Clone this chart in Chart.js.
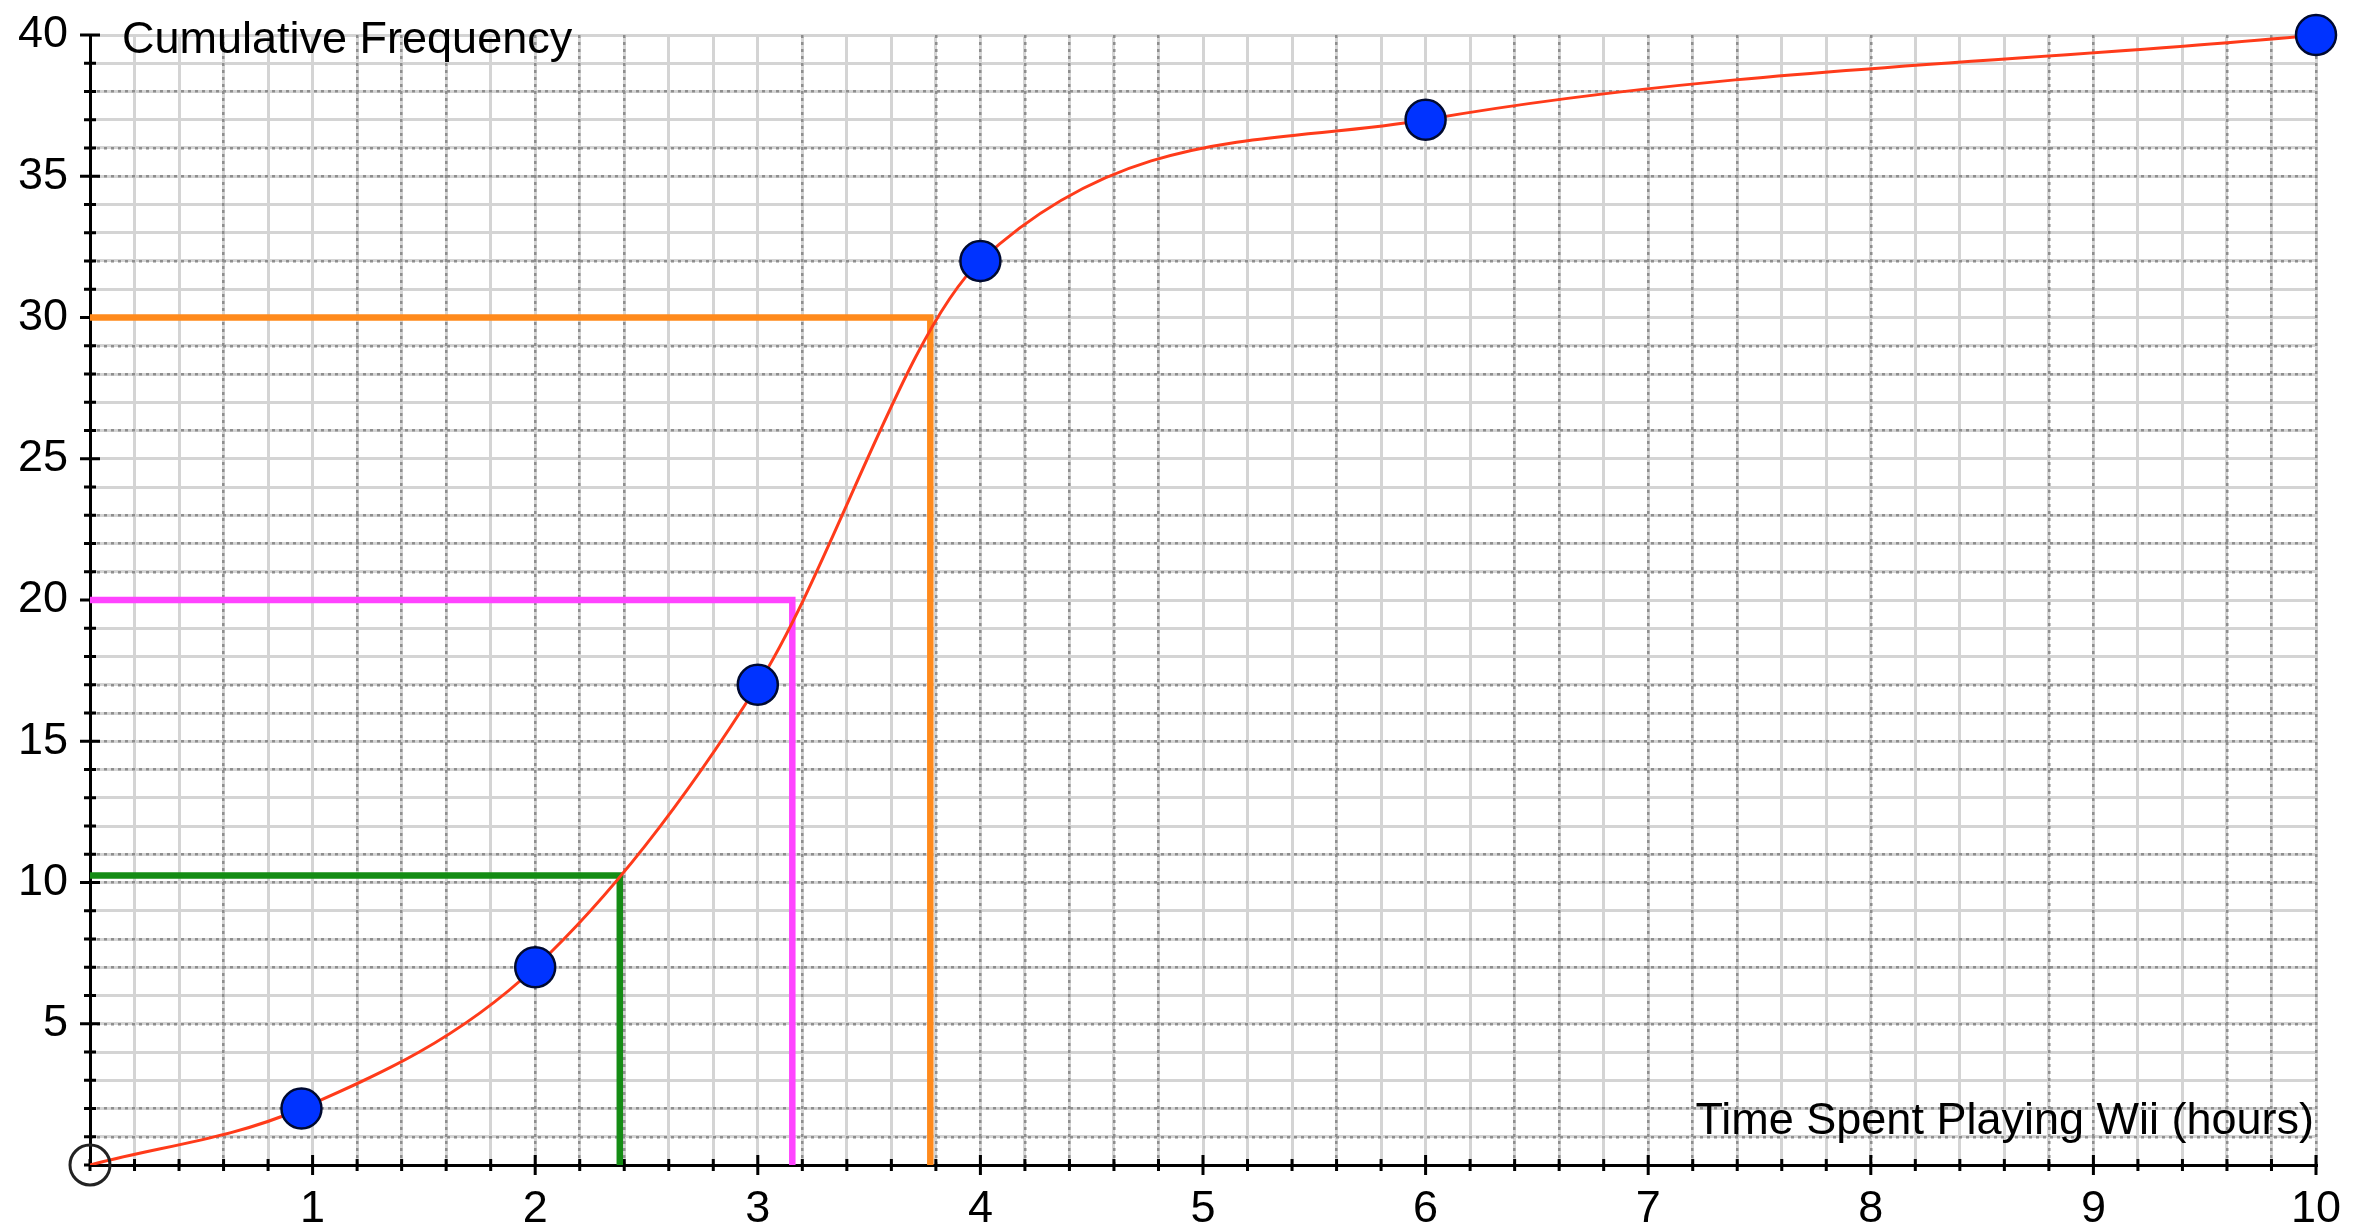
<!DOCTYPE html>
<html>
<head>
<meta charset="utf-8">
<title>Cumulative Frequency</title>
<script src="https://cdn.jsdelivr.net/npm/chart.js@4.4.1/dist/chart.umd.min.js"></script>
<style>
    html, body { margin: 0; padding: 0; background: #fff; }
    #grafico { display: block; }
</style>
</head>
<body>
<canvas id="grafico" width="2356" height="1231"></canvas>
<script>
// Dados (horas x frequência acumulada)
const horas = [0, 0.95, 2, 3, 4, 6, 10];
const freqAcumulada = [0, 2, 7, 17, 32, 37, 40];

// Linhas dos quartis: altura (freq.) e onde cortam a curva (horas)
const quartilFreq = [10.25, 20, 30];
const quartilHoras = [2.38, 3.155, 3.775];
const quartilCores = ['#148c14', '#ff44ff', '#ff8a1c'];

// Rótulos dos eixos
const rotulosX = ['1', '2', '3', '4', '5', '6', '7', '8', '9', '10'];
const rotulosY = ['5', '10', '15', '20', '25', '30', '35', '40'];

// Padrão das linhas da grade (S = contínua clara, D = pontilhada escura)
const gradeX = 'SSSDSSDDDSDDDSSSDSSDDDDDDSSSDSSSDDSDDDSSDSSSDDSSDDD';
const gradeY = 'SDDSSDSDDSDDSSDDDDSSSDDDSSDSDDSSDSSDDSDSS';

const FONTE = "'Liberation Sans', Arial, sans-serif";
Chart.defaults.font.family = FONTE;
Chart.defaults.font.size = 45;
Chart.defaults.color = '#000';

function pontosDe(xs, ys) {
    return xs.map((x, i) => ({ x: x, y: ys[i] }));
}

function rotuloPara(lista, valor) {
    const r = lista.find(l => Math.abs(Number(l) - valor) < 1e-6);
    return r || '';
}

// Marcas dos eixos (cruzam a linha do eixo) e textos dentro da área
const extrasGrafico = {
    id: 'extrasGrafico',
    beforeDatasetsDraw(chart) {
        const ctx = chart.ctx;
        const sx = chart.scales.x, sy = chart.scales.y;
        const x0 = sx.getPixelForValue(0), y0 = sy.getPixelForValue(0);
        const area = chart.chartArea;

        ctx.save();
        ctx.strokeStyle = '#000';
        ctx.lineWidth = 3;
        ctx.beginPath();
        sx.ticks.forEach(t => {
            const px = sx.getPixelForValue(t.value);
            const len = rotuloPara(rotulosX, t.value) ? 10 : 6;
            ctx.moveTo(px, y0 - len);
            ctx.lineTo(px, y0 + len);
        });
        sy.ticks.forEach(t => {
            const py = sy.getPixelForValue(t.value);
            const len = rotuloPara(rotulosY, t.value) ? 10 : 6;
            ctx.moveTo(x0 - len, py);
            ctx.lineTo(x0 + len, py);
        });
        ctx.stroke();

        ctx.fillStyle = '#000';
        ctx.font = '45px ' + FONTE;
        ctx.textBaseline = 'alphabetic';
        ctx.textAlign = 'left';
        ctx.fillText('Cumulative Frequency', area.left + 32, area.top + 18);
        ctx.textAlign = 'right';
        ctx.fillText('Time Spent Playing Wii (hours)', area.right - 2, area.bottom - 31);
        ctx.restore();
    }
};

const dadosCurva = pontosDe(horas, freqAcumulada);

const conjuntosQuartis = quartilFreq.map((f, i) => ({
    label: 'quartil ' + (i + 1),
    data: [{ x: 0, y: f }, { x: quartilHoras[i], y: f }, { x: quartilHoras[i], y: 0 }],
    borderColor: quartilCores[i],
    borderWidth: 6.5,
    borderJoinStyle: 'miter',
    pointRadius: 0,
    tension: 0,
    order: 3
}));

new Chart(document.getElementById('grafico'), {
    type: 'line',
    data: {
        datasets: [
            {
                label: 'pontos',
                data: dadosCurva.slice(1),
                showLine: false,
                pointRadius: 20,
                pointBackgroundColor: '#0033ff',
                pointBorderColor: '#000a30',
                pointBorderWidth: 2.5,
                clip: false,
                order: 0
            },
            {
                label: 'origem',
                data: dadosCurva.slice(0, 1),
                showLine: false,
                pointRadius: 20,
                pointBackgroundColor: 'rgba(0,0,0,0)',
                pointBorderColor: '#222',
                pointBorderWidth: 3,
                clip: false,
                order: 0
            },
            {
                label: 'curva',
                data: dadosCurva,
                borderColor: '#ff3b1a',
                borderWidth: 3,
                pointRadius: 0,
                cubicInterpolationMode: 'monotone',
                order: 1
            },
            ...conjuntosQuartis
        ]
    },
    options: {
        responsive: false,
        animation: false,
        events: [],
        layout: { padding: { top: 35, right: 40, left: 0, bottom: 0 } },
        plugins: { legend: { display: false }, tooltip: { enabled: false } },
        scales: {
            x: {
                type: 'linear', position: 'bottom', min: 0, max: 10,
                ticks: {
                    stepSize: 0.2, autoSkip: false, maxRotation: 0, padding: 18,
                    callback: v => rotuloPara(rotulosX, v)
                },
                grid: { color: '#d4d4d4', lineWidth: 3, drawTicks: false },
                border: { color: '#000', width: 3 },
                afterFit: s => { s.height = 66; s.paddingLeft = 0; s.paddingRight = 0; }
            },
            y: {
                type: 'linear', position: 'left', min: 0, max: 40,
                ticks: {
                    stepSize: 1, autoSkip: false, padding: 22,
                    callback: v => rotuloPara(rotulosY, v)
                },
                grid: { color: '#d4d4d4', lineWidth: 3, drawTicks: false },
                border: { color: '#000', width: 3 },
                afterFit: s => { s.width = 90; s.paddingTop = 0; s.paddingBottom = 0; }
            },
            xd: {
                type: 'linear', position: 'top', min: 0, max: 10, display: true,
                ticks: { stepSize: 0.2, autoSkip: false, display: false },
                grid: {
                    drawTicks: false, lineWidth: 2.5,
                    color: c => gradeX[c.index] === 'D' ? '#8e8e8e' : 'rgba(0,0,0,0)'
                },
                border: { display: false, dash: [3, 4] },
                afterFit: s => { s.height = 0; }
            },
            yd: {
                type: 'linear', position: 'right', min: 0, max: 40, display: true,
                ticks: { stepSize: 1, autoSkip: false, display: false },
                grid: {
                    drawTicks: false, lineWidth: 2.5,
                    color: c => gradeY[c.index] === 'D' ? '#8e8e8e' : 'rgba(0,0,0,0)'
                },
                border: { display: false, dash: [3, 4] },
                afterFit: s => { s.width = 0; }
            }
        }
    },
    plugins: [extrasGrafico]
});
</script>
</body>
</html>
